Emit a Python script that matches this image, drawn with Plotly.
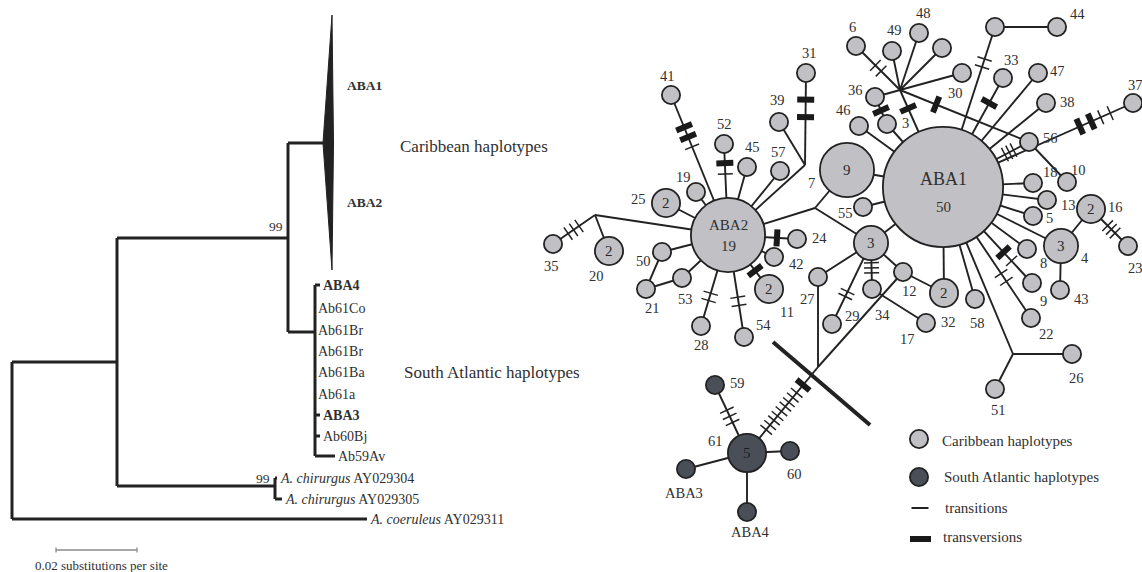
import numpy as np
import plotly.graph_objects as go
from collections import defaultdict

W, H = 1142, 572
SERIF = "Liberation Serif, Times New Roman, Times, serif"
INK = "#222222"
TXT = "#303030"
LIGHT = "#c1c1c5"
DARK = "#4a4f57"

# ====================== PHYLOGENETIC TREE (left panel) ======================
tree_node = ["root", "n117", "n99", "nchir", "nSA", "caribbean",
             "ABA4", "Ab61Co", "Ab61Br_a", "Ab61Br_b", "Ab61Ba", "Ab61a", "ABA3", "Ab60Bj", "Ab59Av",
             "chir304", "chir305", "coer311"]
tree_parent = [None, "root", "n117", "n117", "n99", "n99",
               "nSA", "nSA", "nSA", "nSA", "nSA", "nSA", "nSA", "nSA", "nSA",
               "nchir", "nchir", "root"]
tree_x = [12, 117, 288, 275, 315, 323,
          320, 315, 315, 315, 315, 315, 320, 320, 335,
          277, 282, 367]
tree_y = [440, 362, 238, 486, 332, 143,
          285, 308, 330, 351, 372, 394, 415, 436, 456,
          478, 499, 519]
tip_text = {"ABA4": "<b>ABA4</b>", "Ab61Co": "Ab61Co", "Ab61Br_a": "Ab61Br", "Ab61Br_b": "Ab61Br",
            "Ab61Ba": "Ab61Ba", "Ab61a": "Ab61a", "ABA3": "<b>ABA3</b>", "Ab60Bj": "Ab60Bj",
            "Ab59Av": "Ab59Av", "chir304": "<i>A. chirurgus</i> AY029304",
            "chir305": "<i>A. chirurgus</i> AY029305", "coer311": "<i>A. coeruleus</i> AY029311"}
bootstrap_node = ["n99", "nchir"]
bootstrap_val = ["99", "99"]
bootstrap_y = [226, 478]
# collapsed Caribbean clade (triangle): depth, top, bottom
clade_depth, clade_top, clade_bottom = 332.5, 15, 270
clade_members = ["<b>ABA1</b>", "<b>ABA2</b>"]
clade_member_y = [85, 202]
group_names = ["Caribbean haplotypes", "South Atlantic haplotypes"]
group_xy = [(400, 146), (404, 372)]
scale_value = 0.02
px_per_unit = 81 / 0.02

# ====================== HAPLOTYPE NETWORK (right panel) ======================
hap_id = ["ABA1", "ABA2", "h7", "h14", "h4", "h16", "h25", "h20", "h11", "h32",
          "h31", "h41", "h39", "h52", "h45", "h57", "h19", "h35", "h50", "h21", "h53", "h28", "h54", "h24", "h42",
          "h27", "h29", "h34", "h12", "h17", "h58", "h22", "h9", "h8", "h43", "h23", "h26", "h51", "h55", "h46",
          "h3", "h36", "h6", "h49", "h48", "hA", "h30", "hB", "h44", "h33", "h47", "h38", "h56", "h37", "h10",
          "h18", "h13", "h5",
          "h61", "h59", "h60", "hABA3", "hABA4"]
hap_label = ["", "", "7", "", "4", "16", "25", "20", "11", "32",
             "31", "41", "39", "52", "45", "57", "19", "35", "50", "21", "53", "28", "54", "24", "42",
             "27", "29", "34", "12", "17", "58", "22", "9", "8", "43", "23", "26", "51", "55", "46",
             "3", "36", "6", "49", "48", "", "30", "", "44", "33", "47", "38", "56", "37", "10",
             "18", "13", "5",
             "61", "59", "60", "ABA3", "ABA4"]
hap_count = [50, 19, 9, 3, 3, 2, 2, 2, 2, 2,
             1, 1, 1, 1, 1, 1, 1, 1, 1, 1, 1, 1, 1, 1, 1,
             1, 1, 1, 1, 1, 1, 1, 1, 1, 1, 1, 1, 1, 1, 1,
             1, 1, 1, 1, 1, 1, 1, 1, 1, 1, 1, 1, 1, 1, 1,
             1, 1, 1,
             5, 1, 1, 1, 1]
hap_region = ["C"] * 58 + ["S"] * 5
# layout positions (px) of the network drawing
hap_x = [943, 728, 847, 871, 1061, 1091, 666, 609, 769, 944,
         806, 671, 779, 724, 747, 780, 696, 553, 662, 646, 682, 701, 744, 797, 774,
         818, 832, 872, 903, 926, 975, 1031, 1032, 1027, 1060, 1128, 1072, 995, 863, 859,
         887, 875, 856, 892, 919, 942, 962, 995, 1057, 1003, 1038, 1046, 1029, 1133, 1067,
         1033, 1047, 1033,
         747, 715, 790, 686, 747]
hap_y = [187, 235, 170, 243, 246, 209, 203, 251, 289, 293,
         73, 95, 122, 144, 167, 171, 192, 244, 252, 289, 278, 326, 337, 239, 257,
         277, 324, 289, 272, 323, 299, 318, 283, 249, 290, 246, 354, 389, 207, 126,
         124, 97, 46, 51, 33, 48, 73, 27, 27, 78, 73, 103, 142, 103, 182,
         183, 200, 216,
         453, 385, 451, 469, 512]
lab_x = [0, 0, 811, 0, 1085, 1115, 638, 596, 787, 948,
         809, 667, 777, 724, 752, 778, 683, 551, 643, 652, 685, 701, 763, 819, 796,
         807, 852, 882, 909, 907, 977, 1046, 1043, 1043, 1081, 1135, 1076, 998, 845, 843,
         905, 855, 852, 894, 923, 0, 955, 0, 1077, 1011, 1057, 1067, 1050, 1135, 1078,
         1050, 1068, 1049,
         715, 737, 794, 684, 750]
lab_y = [0, 0, 183, 0, 258, 207, 199, 276, 312, 322,
         53, 76, 100, 124, 147, 152, 177, 266, 261, 308, 299, 345, 325, 238, 264,
         299, 316, 315, 291, 339, 323, 334, 301, 263, 299, 268, 378, 410, 213, 110,
         123, 90, 27, 30, 13, 0, 93, 0, 14, 60, 71, 102, 138, 85, 170,
         172, 205, 218,
         441, 383, 474, 493, 532]
radius_for_count = {1: 10, 2: 15, 3: 18, 5: 20, 9: 28, 19: 38, 50: 61}

junction_id = ["J35", "J31", "J7", "Jstar", "J26", "JX"]
junction_x = [595, 805, 815, 900, 1013, 818]
junction_y = [215, 165, 208, 90, 354, 367]

edge_a = ["h41", "h52", "h45", "h19", "h25", "h57", "J31", "h31", "h39", "J35",
          "h35", "h20", "h50", "h50", "h21", "h53", "h28", "h54", "ABA2", "ABA2",
          "ABA2", "J7", "J7", "J7", "h7", "h14", "h14", "h29", "h34", "h14",
          "h12", "h34", "h12", "h27", "JX", "h59", "h61", "h61", "h61", "h55",
          "h46", "h3", "h36", "Jstar", "Jstar", "Jstar", "Jstar", "Jstar", "Jstar", "Jstar",
          "Jstar", "h56", "ABA1", "ABA1", "hB", "ABA1", "ABA1", "ABA1", "ABA1", "ABA1",
          "ABA1", "ABA1", "ABA1", "h4", "h16", "h4", "ABA1", "ABA1", "ABA1", "ABA1",
          "J26", "J26", "ABA1", "ABA1"]
edge_b = ["ABA2", "ABA2", "ABA2", "ABA2", "ABA2", "ABA2", "ABA2", "J31", "J31", "ABA2",
          "J35", "J35", "ABA2", "h21", "h53", "ABA2", "ABA2", "ABA2", "h24", "h42",
          "h11", "ABA2", "h7", "h14", "ABA1", "ABA1", "h27", "h14", "h14", "h12",
          "h32", "h17", "JX", "JX", "h61", "h61", "h60", "hABA3", "hABA4", "ABA1",
          "ABA1", "ABA1", "h3", "h36", "h6", "h49", "h48", "hA", "h30", "ABA1",
          "h56", "h10", "h56", "hB", "h44", "h33", "h47", "h38", "h37", "h18",
          "h13", "h5", "h4", "h16", "h23", "h43", "h8", "h9", "h22", "J26",
          "h26", "h51", "h58", "h32"]

# mutations on edges: (from, to, fraction along edge, kind) s = transition, v = transversion
mut_from = ["h41", "h41", "h41", "h52", "h52", "h31", "h31", "h35", "h35", "h35",
            "h28", "h28", "h54", "h54", "ABA2", "ABA2", "h59", "h59", "h59",
            "JX", "JX", "JX", "JX", "JX", "JX", "JX", "JX", "JX", "JX",
            "h29", "h29", "h34", "h34", "h34",
            "ABA1", "ABA1", "ABA1", "ABA1", "ABA1", "ABA1", "ABA1", "ABA1", "ABA1",
            "h16", "h16", "h16", "ABA1", "ABA1", "ABA1", "ABA1", "ABA1",
            "h36", "Jstar", "Jstar", "Jstar", "Jstar"]
mut_to = ["ABA2", "ABA2", "ABA2", "ABA2", "ABA2", "J31", "J31", "J35", "J35", "J35",
          "ABA2", "ABA2", "ABA2", "ABA2", "h24", "h11", "h61", "h61", "h61",
          "h61", "h61", "h61", "h61", "h61", "h61", "h61", "h61", "h61", "h61",
          "h14", "h14", "h14", "h14", "h14",
          "h22", "h22", "h9", "h9", "h37", "h37", "h37", "h37", "h33",
          "h23", "h23", "h23", "h56", "h56", "h56", "hB", "hB",
          "h3", "h6", "h6", "ABA1", "h56"]
mut_pos = [0.23, 0.30, 0.37, 0.21, 0.33, 0.29, 0.48, 0.36, 0.49, 0.62,
           0.28, 0.36, 0.31, 0.39, 0.71, 0.66, 0.37, 0.46, 0.55,
           0.21, 0.30, 0.355, 0.41, 0.46, 0.515, 0.57, 0.62, 0.675, 0.73,
           0.34, 0.40, 0.35, 0.46, 0.57,
           0.66, 0.72, 0.68, 0.77, 0.72, 0.78, 0.83, 0.88, 0.77,
           0.45, 0.55, 0.65, 0.72, 0.77, 0.82, 0.75, 0.80,
           0.50, 0.43, 0.56, 0.19, 0.28]
mut_kind = ["v", "v", "s", "v", "s", "v", "v", "s", "s", "s",
            "s", "s", "s", "s", "v", "v", "s", "s", "s",
            "v", "s", "s", "s", "s", "s", "s", "s", "s", "s",
            "s", "s", "s", "s", "s",
            "s", "s", "v", "s", "v", "v", "s", "s", "v",
            "s", "s", "s", "s", "s", "s", "s", "s",
            "v", "s", "s", "v", "v"]

# separator line between Caribbean and South Atlantic groups
sep_x = [773, 870]
sep_y = [342, 425]

legend_items = ["Caribbean haplotypes", "South Atlantic haplotypes", "transitions", "transversions"]

# ====================== BUILD FIGURE ======================
fig = go.Figure()
ann = []


def label(x, y, text, size, anchor="left", color=TXT):
    ann.append(dict(x=x, y=y, text=text, showarrow=False, xanchor=anchor, yanchor="middle",
                    font=dict(family=SERIF, size=size, color=color), xref="x", yref="y"))


# ---- tree ----
pos = {n: (x, y) for n, x, y in zip(tree_node, tree_x, tree_y)}
children = defaultdict(list)
for n, p in zip(tree_node, tree_parent):
    if p is not None:
        children[p].append(n)
sx, sy = [], []
for n, p in zip(tree_node, tree_parent):
    if p is None:
        continue
    px = pos[p][0]
    x, y = pos[n]
    sx += [px, x, None]
    sy += [y, y, None]
for p, ch in children.items():
    ys = [pos[c][1] for c in ch]
    sx += [pos[p][0], pos[p][0], None]
    sy += [min(ys), max(ys), None]
fig.add_trace(go.Scatter(x=sx, y=sy, mode="lines", line=dict(color=INK, width=3),
                         hoverinfo="skip"))
cx, cy = pos["caribbean"]
fig.add_trace(go.Scatter(x=[cx, clade_depth - 0.5, clade_depth + 1, clade_depth - 0.5, cx],
                         y=[cy, clade_top, cy, clade_bottom, cy], mode="lines", fill="toself",
                         fillcolor=INK, line=dict(color=INK, width=1), hoverinfo="skip"))
for n, t in tip_text.items():
    label(pos[n][0] + 0.5, pos[n][1], t, 14)
for t, y in zip(clade_members, clade_member_y):
    label(345, y, t, 13.5)
for n, v, y in zip(bootstrap_node, bootstrap_val, bootstrap_y):
    label(pos[n][0] - 3, y, v, 13.5, anchor="right")
for g, (gx, gy) in zip(group_names, group_xy):
    label(gx - 2, gy, g, 17)
# scale bar
bar_len = scale_value * px_per_unit
bx0, by = 56, 550
fig.add_trace(go.Scatter(x=[bx0, bx0 + bar_len, None, bx0, bx0, None, bx0 + bar_len, bx0 + bar_len],
                         y=[by, by, None, by - 2.5, by + 2.5, None, by - 2.5, by + 2.5],
                         mode="lines", line=dict(color="#8c8c8c", width=1.3), hoverinfo="skip"))
label(33, 565, f"{scale_value:g} substitutions per site", 13)

# ---- network ----
P = {h: (x, y) for h, x, y in zip(hap_id, hap_x, hap_y)}
P.update({j: (x, y) for j, x, y in zip(junction_id, junction_x, junction_y)})

ex, ey = [], []
for a, b in zip(edge_a, edge_b):
    ex += [P[a][0], P[b][0], None]
    ey += [P[a][1], P[b][1], None]
fig.add_trace(go.Scatter(x=ex, y=ey, mode="lines", line=dict(color=INK, width=1.9), hoverinfo="skip"))
fig.add_trace(go.Scatter(x=sep_x, y=sep_y, mode="lines", line=dict(color=INK, width=4), hoverinfo="skip"))

tx, ty, vx, vy = [], [], [], []
for a, b, t, k in zip(mut_from, mut_to, mut_pos, mut_kind):
    A = np.array(P[a], float)
    B = np.array(P[b], float)
    d = B - A
    u = d / np.linalg.norm(d)
    nrm = np.array([-u[1], u[0]])
    c = A + t * d
    L = 15 if k == "s" else 17
    p0, p1 = c - nrm * L / 2, c + nrm * L / 2
    if k == "s":
        tx += [p0[0], p1[0], None]
        ty += [p0[1], p1[1], None]
    else:
        vx += [p0[0], p1[0], None]
        vy += [p0[1], p1[1], None]
fig.add_trace(go.Scatter(x=tx, y=ty, mode="lines", line=dict(color=INK, width=1.5), hoverinfo="skip"))
fig.add_trace(go.Scatter(x=vx, y=vy, mode="lines", line=dict(color="#1a1a1a", width=6), hoverinfo="skip"))

LW = 1.8
for reg, col in (("C", LIGHT), ("S", DARK)):
    idx = [i for i, r in enumerate(hap_region) if r == reg]
    fig.add_trace(go.Scatter(
        x=[hap_x[i] for i in idx], y=[hap_y[i] for i in idx], mode="markers",
        marker=dict(size=[2 * radius_for_count[hap_count[i]] - LW for i in idx], color=col,
                    line=dict(color=INK, width=LW), opacity=1),
        hoverinfo="skip"))

for i, h in enumerate(hap_id):
    n = hap_count[i]
    if h == "ABA1":
        label(hap_x[i], hap_y[i] - 8, "ABA1", 18, anchor="center")
        label(hap_x[i], hap_y[i] + 20, str(n), 15, anchor="center")
    elif h == "ABA2":
        label(hap_x[i], hap_y[i] - 10, "ABA2", 15, anchor="center")
        label(hap_x[i], hap_y[i] + 11, str(n), 15, anchor="center")
    elif n > 1:
        label(hap_x[i], hap_y[i], str(n), 15, anchor="center",
              color="#2a2a2a" if hap_region[i] == "C" else "#1c1f24")
    if hap_label[i]:
        label(lab_x[i], lab_y[i], hap_label[i], 14.5, anchor="center")

# ---- legend ----
fig.add_trace(go.Scatter(x=[919, 919], y=[439, 477], mode="markers",
                         marker=dict(size=2 * 10 - LW, color=[LIGHT, DARK], line=dict(color=INK, width=LW)),
                         hoverinfo="skip"))
fig.add_trace(go.Scatter(x=[911.5, 928.5], y=[508, 508], mode="lines", line=dict(color=INK, width=2),
                         hoverinfo="skip"))
fig.add_trace(go.Scatter(x=[910, 931], y=[539, 539], mode="lines", line=dict(color="#1a1a1a", width=6),
                         hoverinfo="skip"))
for t, (x, y) in zip(legend_items, [(940, 441), (942, 477), (943, 508), (941, 537)]):
    label(x, y, t, 15)

fig.update_layout(
    width=W, height=H, margin=dict(l=0, r=0, t=0, b=0),
    paper_bgcolor="white", plot_bgcolor="white", showlegend=False,
    xaxis=dict(range=[0, W], visible=False, fixedrange=True),
    yaxis=dict(range=[H, 0], visible=False, fixedrange=True),
    annotations=ann,
)
fig.write_html("out.html", config={"displayModeBar": False},
               post_script="document.body.style.margin='0';document.body.style.overflow='hidden';")
